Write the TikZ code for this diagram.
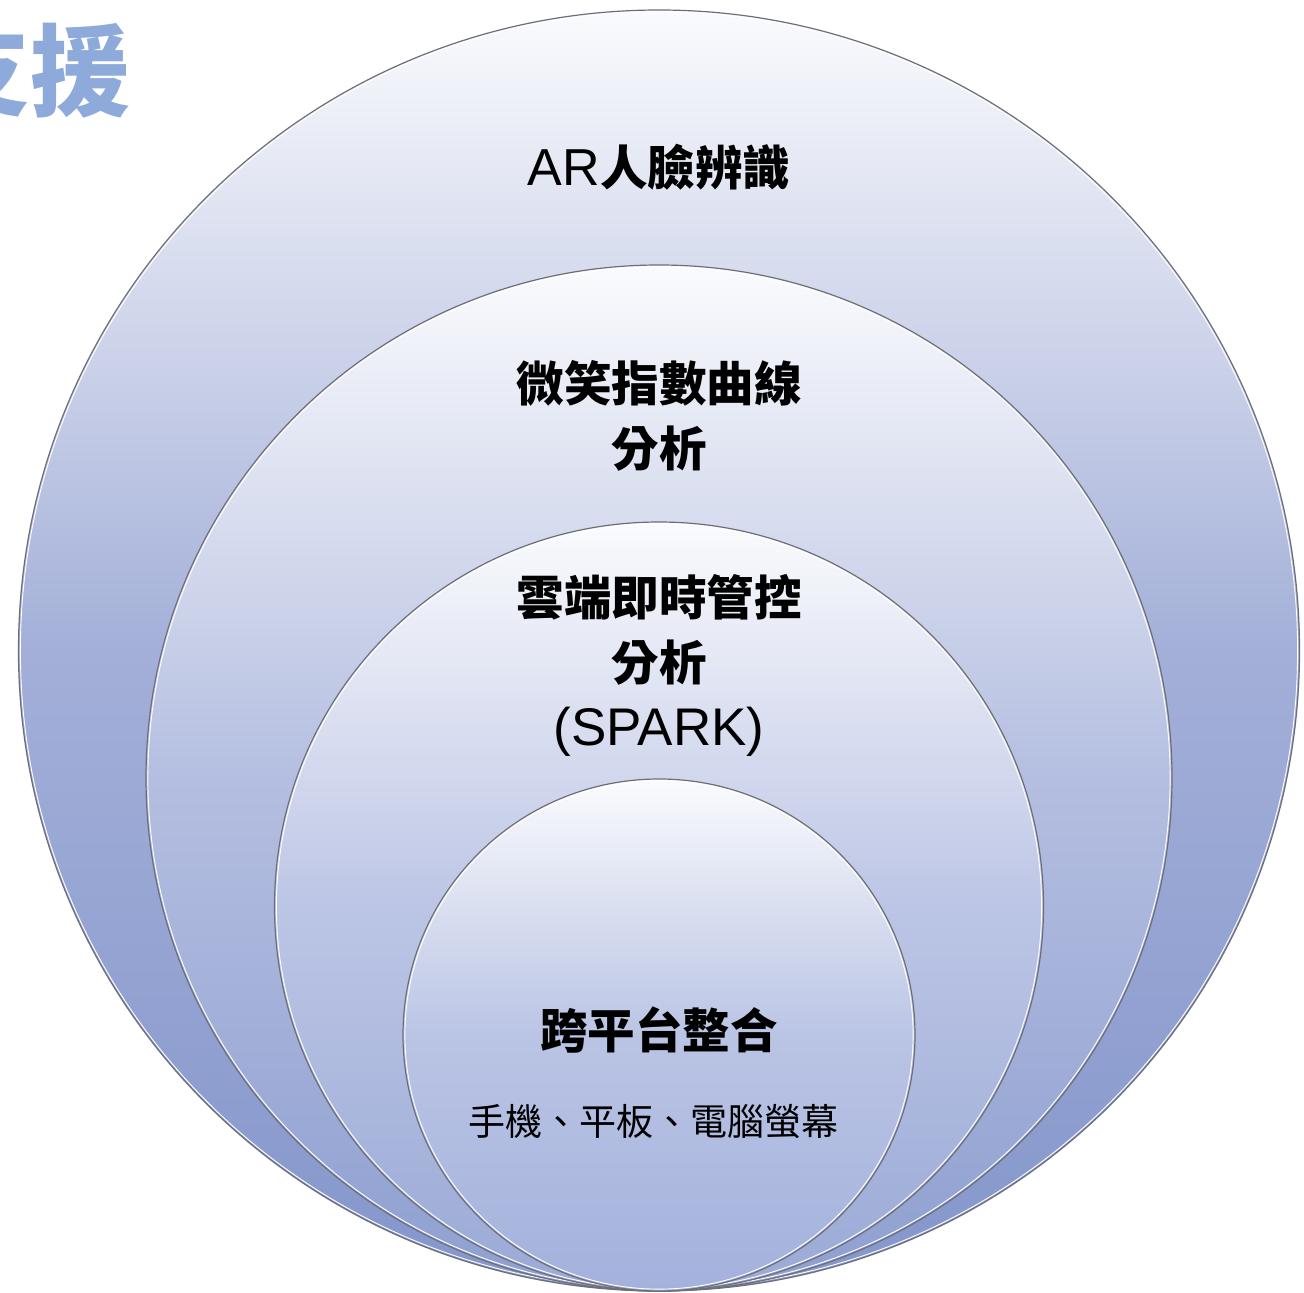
\documentclass[tikz,border=0pt]{standalone}
\usepackage{fontspec}
\newfontfamily\cjk{Noto Sans CJK TC}
\newfontfamily\latn{Liberation Sans}
\definecolor{ringline}{HTML}{6E6E78}
\definecolor{titleblue}{HTML}{8EAADB}
\definecolor{topw}{HTML}{FAFBFD}
\definecolor{c1m}{HTML}{A3AFD8}
\definecolor{c1b}{HTML}{8496CB}
\definecolor{c2m}{HTML}{B4BEE0}
\definecolor{c2b}{HTML}{8E9FD0}
\definecolor{c3m}{HTML}{BCC5E5}
\definecolor{c3b}{HTML}{9AAAD6}
\definecolor{c4m}{HTML}{BAC4E4}
\definecolor{c4b}{HTML}{A3B1DC}
\tikzset{
  ring/.style={circle, inner sep=0pt, outer sep=0pt, draw=ringline, line width=1.2pt},
  hilite/.style={draw=white, line width=0.9pt},
  headtext/.style={anchor=base, inner sep=0pt, font=\cjk\bfseries\fontsize{47.5}{60}\selectfont, text=black},
  subtext/.style={anchor=base, inner sep=0pt, font=\cjk\fontsize{37}{45}\selectfont, text=black},
  cornertext/.style={anchor=base west, inner sep=0pt, font=\cjk\bfseries\fontsize{100}{110}\selectfont, text=titleblue}
}
\begin{document}
\begin{tikzpicture}[x=1pt,y=-1pt]
\useasboundingbox (0,0) rectangle (1304,1293);
\clip (0,0) rectangle (1304,1293);
\fill[white] (0,0) rectangle (1304,1293);

% corner title (partly cut off at the left edge, as in the reference)
\node[cornertext] (title) at (-70,108) {支援};

% nested circles, all touching at the bottom
\node[ring, minimum size=1281pt, top color=topw, bottom color=c1b, middle color=c1m] (c1) at (659,650.5) {};
\draw[hilite] (c1.center) circle (638.6);
\node[ring, minimum size=1026pt, top color=topw, bottom color=c2b, middle color=c2m] (c2) at (659,778) {};
\draw[hilite] (c2.center) circle (511.1);
\node[ring, minimum size=769pt, top color=topw, bottom color=c3b, middle color=c3m] (c3) at (659,906.5) {};
\draw[hilite] (c3.center) circle (382.6);
\node[ring, minimum size=512pt, top color=topw, bottom color=c4b, middle color=c4m] (c4) at (659,1035) {};
\draw[hilite] (c4.center) circle (254.1);

% texts
\node[headtext] (t1) at (659,185) {{\latn\mdseries\fontsize{52}{60}\selectfont AR}人臉辨識};
\node[headtext] (t2a) at (659,401) {微笑指數曲線};
\node[headtext] (t2b) at (659,466) {分析};
\node[headtext] (t3a) at (659,615) {雲端即時管控};
\node[headtext] (t3b) at (659,680) {分析};
\node[headtext, font=\latn\fontsize{53}{60}\selectfont] (t3c) at (659,745) {(SPARK)};
\node[headtext] (t4a) at (659,1048) {跨平台整合};
\node[subtext] (t4b) at (653,1135) {手機、平板、電腦螢幕};
\end{tikzpicture}
\end{document}
